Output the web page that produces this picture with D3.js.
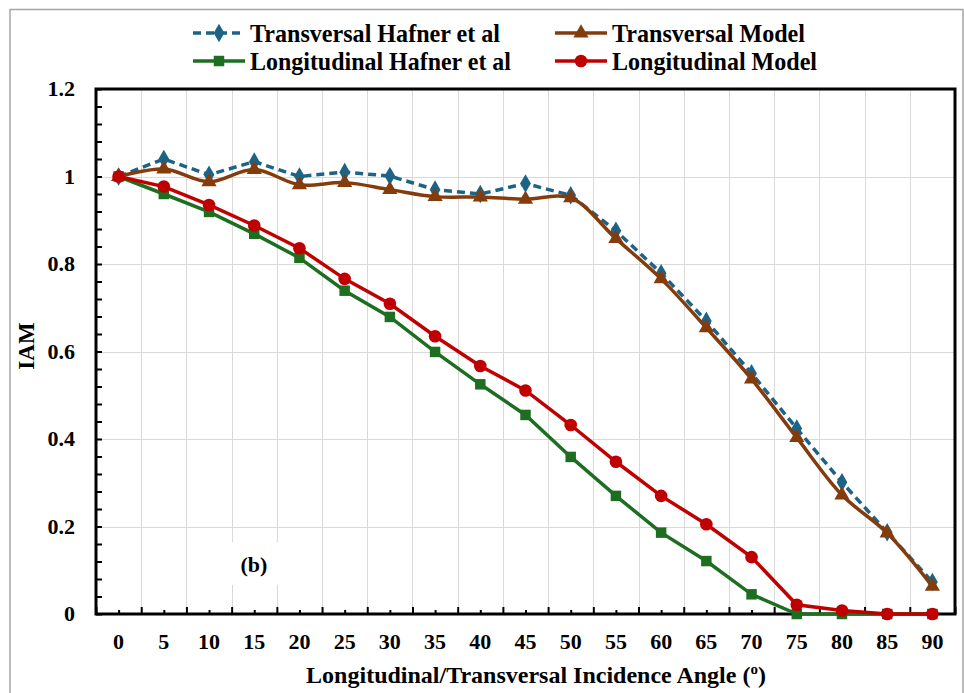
<!DOCTYPE html>
<html>
<head>
<meta charset="utf-8">
<script src="https://cdn.jsdelivr.net/npm/d3@7"></script>
<style>
  body { margin: 0; background: #fff; }
  text { font-family: "Liberation Serif", "Times New Roman", serif; font-weight: bold; }
</style>
</head>
<body>
<div id="chart"></div>
<script>
// --- Data ---
const angles = [0, 5, 10, 15, 20, 25, 30, 35, 40, 45, 50, 55, 60, 65, 70, 75, 80, 85, 90];
const transHafner = [1.0, 1.04, 1.004, 1.034, 1.0, 1.01, 1.001, 0.97, 0.96, 0.984, 0.957, 0.876, 0.779, 0.67, 0.55, 0.424, 0.301, 0.187, 0.073];
const transModel = [1.0, 1.017, 0.988, 1.016, 0.981, 0.986, 0.97, 0.954, 0.953, 0.948, 0.951, 0.858, 0.766, 0.654, 0.537, 0.403, 0.272, 0.185, 0.063];
const longHafner = [1.0, 0.96, 0.919, 0.869, 0.814, 0.739, 0.679, 0.599, 0.525, 0.455, 0.359, 0.27, 0.186, 0.121, 0.045, 0.0, 0.0, 0.0, 0.0];
const longModel = [1.0, 0.977, 0.935, 0.888, 0.836, 0.766, 0.709, 0.635, 0.567, 0.511, 0.432, 0.348, 0.27, 0.205, 0.13, 0.021, 0.008, 0.0, 0.0];
const yTicks = [0, 0.2, 0.4, 0.6, 0.8, 1.0, 1.2];

const seriesList = [
  { name: "Transversal Hafner et al", values: transHafner, color: "#1d6386", marker: "diamond", dash: "8,5", smooth: false },
  { name: "Transversal Model", values: transModel, color: "#843c0c", marker: "triangle", dash: null, smooth: true },
  { name: "Longitudinal Hafner et al", values: longHafner, color: "#1e6e22", marker: "square", dash: null, smooth: false },
  { name: "Longitudinal Model", values: longModel, color: "#c00000", marker: "circle", dash: null, smooth: false }
];

// --- Layout ---
const W = 964, H = 693;
const plot = { left: 96, right: 955, top: 89, bottom: 614 };

const svg = d3.select("#chart").append("svg")
  .attr("width", W).attr("height", H);

// chart area border
svg.append("rect")
  .attr("x", 10).attr("y", 9.5).attr("width", 953).attr("height", 700)
  .attr("fill", "#fff").attr("stroke", "#a6a6a6").attr("stroke-width", 1.5);

const x = d3.scaleLinear().domain([-2.5, 92.5]).range([plot.left, plot.right]);
const y = d3.scaleLinear().domain([0, 1.2]).range([plot.bottom, plot.top]);

// --- Gridlines ---
const xBounds = d3.range(-2.5, 93, 5);
const grid = svg.append("g").attr("stroke", "#d9d9d9").attr("stroke-width", 1);
grid.selectAll(".vg").data(xBounds.slice(1, -1)).join("line")
  .attr("x1", d => Math.round(x(d)) + 0.5).attr("x2", d => Math.round(x(d)) + 0.5)
  .attr("y1", plot.top).attr("y2", plot.bottom);
grid.selectAll(".hg").data(yTicks.slice(1, -1)).join("line")
  .attr("x1", plot.left).attr("x2", plot.right)
  .attr("y1", d => Math.round(y(d)) + 0.5).attr("y2", d => Math.round(y(d)) + 0.5);

// "(b)" label box
svg.append("rect").attr("x", 230).attr("y", 542).attr("width", 48).attr("height", 43).attr("fill", "#fff");
svg.append("text").attr("x", 254).attr("y", 572).attr("text-anchor", "middle")
  .attr("font-size", 22).text("(b)");

// --- Axes (ticks pointing inward) ---
const xAxisMajor = d3.axisTop(x).tickValues(xBounds).tickSize(7).tickFormat("");
const xAxisMinor = d3.axisTop(x).tickValues(angles).tickSize(4).tickFormat("");
const yMinorVals = d3.range(0, 1.2001, 0.04);
const yAxisMinor = d3.axisRight(y).tickValues(yMinorVals).tickSize(6).tickFormat("");

[xAxisMajor, xAxisMinor].forEach(ax => {
  svg.append("g").attr("transform", `translate(0,${plot.bottom})`).call(ax)
    .call(g => g.select(".domain").remove())
    .selectAll("line").attr("stroke", "#000").attr("stroke-width", 2);
});
svg.append("g").attr("transform", `translate(${plot.left},0)`).call(yAxisMinor)
  .call(g => g.select(".domain").remove())
  .selectAll("line").attr("stroke", "#000").attr("stroke-width", 2);

// tick labels
svg.append("g").selectAll("text").data(angles).join("text")
  .attr("x", d => x(d)).attr("y", 649).attr("text-anchor", "middle")
  .attr("font-size", 22).text(d => d);
svg.append("g").selectAll("text").data(yTicks).join("text")
  .attr("x", 75).attr("y", d => y(d) + 7).attr("text-anchor", "end")
  .attr("font-size", 22).text(d => d3.format("~g")(d));

// plot frame
svg.append("rect")
  .attr("x", plot.left).attr("y", plot.top)
  .attr("width", plot.right - plot.left).attr("height", plot.bottom - plot.top)
  .attr("fill", "none").attr("stroke", "#000").attr("stroke-width", 3);

// axis titles
const xt = svg.append("text").attr("x", 536).attr("y", 683).attr("text-anchor", "middle")
  .attr("font-size", 24);
xt.append("tspan").text("Longitudinal/Transversal Incidence Angle (");
xt.append("tspan").attr("font-size", 15).attr("dy", -9).text("o");
xt.append("tspan").attr("dy", 9).text(")");
svg.append("text").attr("transform", "translate(34,346) rotate(-90)")
  .attr("text-anchor", "middle").attr("font-size", 23).text("IAM");

// --- Markers ---
const symbolFor = {
  diamond: d3.symbol().type(d3.symbolDiamond).size(100),
  triangle: d3.symbol().type(d3.symbolTriangle).size(100),
  square: d3.symbol().type(d3.symbolSquare).size(110),
  circle: d3.symbol().type(d3.symbolCircle).size(125)
};

function drawMarker(g, s, cx, cy) {
  g.append("path")
    .attr("d", symbolFor[s.marker]())
    .attr("transform", `translate(${cx},${cy})`)
    .attr("fill", s.color);
}

// --- Lines ---
seriesList.forEach(s => {
  const pts = angles.map((a, i) => [a, s.values[i]]);
  const line = d3.line()
    .x(d => x(d[0])).y(d => y(d[1]))
    .curve(s.smooth ? d3.curveCatmullRom.alpha(0.5) : d3.curveLinear);
  const g = svg.append("g");
  g.append("path").datum(pts)
    .attr("fill", "none").attr("stroke", s.color).attr("stroke-width", 3.5)
    .attr("stroke-dasharray", s.dash).attr("d", line);
  pts.forEach(p => drawMarker(g, s, x(p[0]), y(p[1])));
});

// --- Legend ---
const legendPos = [
  { lx: 193, ly: 33, tw: 250 }, { lx: 555, ly: 33, tw: 193 },
  { lx: 193, ly: 61, tw: 261 }, { lx: 555, ly: 61, tw: 205 }
];
seriesList.forEach((s, i) => {
  const p = legendPos[i];
  const g = svg.append("g");
  g.append("line").attr("x1", p.lx).attr("x2", p.lx + 52)
    .attr("y1", p.ly).attr("y2", p.ly)
    .attr("stroke", s.color).attr("stroke-width", 3.5)
    .attr("stroke-dasharray", s.dash);
  drawMarker(g, s, p.lx + 26, p.ly);
  g.append("text").attr("x", p.lx + 57).attr("y", p.ly + 9)
    .attr("font-size", 26)
    .attr("textLength", p.tw).attr("lengthAdjust", "spacingAndGlyphs")
    .text(s.name);
});
</script>
</body>
</html>
